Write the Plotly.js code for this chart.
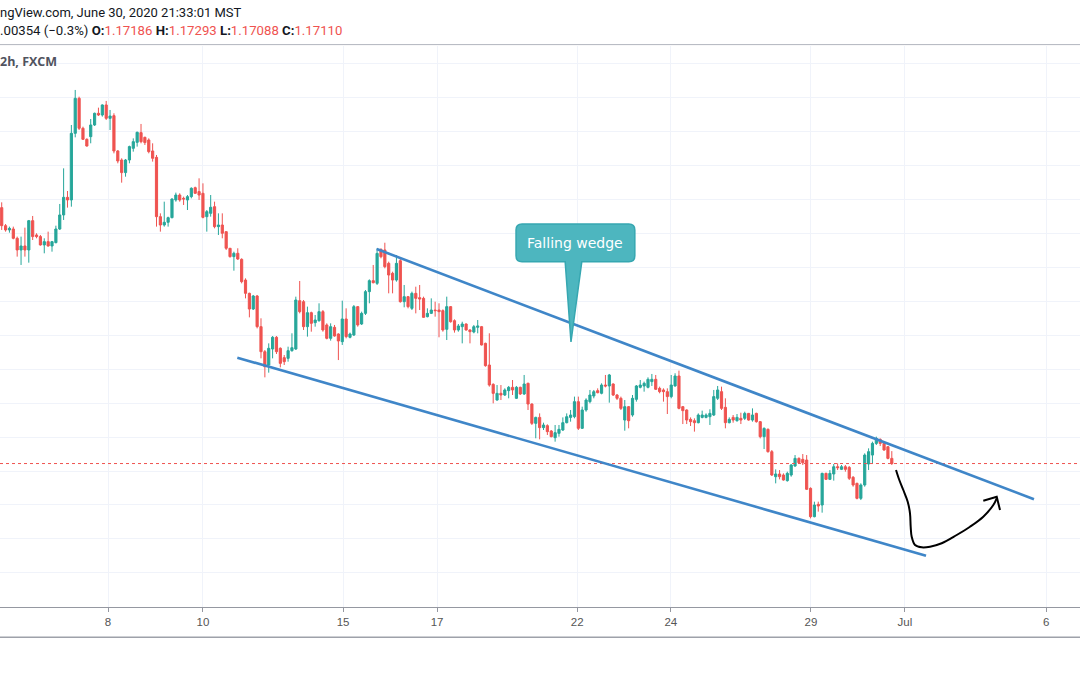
<!DOCTYPE html>
<html>
<head>
<meta charset="utf-8">
<script src="https://cdn.plot.ly/plotly-3.0.1.min.js"></script>
<style>
  html, body { margin: 0; padding: 0; background: #ffffff; }
  #chart { width: 1080px; height: 675px; }
</style>
</head>
<body>
<div id="chart"></div>
<script>
// ---- 2h candles (FXCM), oldest first ----
const open = [
  1.20881,1.20615,1.20552,1.20566,1.20429,1.20257,1.20316,1.20257,1.20689,1.20478,
  1.20454,1.20331,1.20380,1.20316,1.20365,1.20566,1.20773,1.21033,1.20994,1.21976,
  1.22492,1.22050,1.21888,1.21927,1.22099,1.22271,1.22246,1.22394,1.22197,1.22236,
  1.21716,1.21583,1.21397,1.21583,1.21755,1.21843,1.21986,1.21917,1.21878,1.21716,
  1.21622,1.20748,1.20625,1.20665,1.20733,1.20994,1.21067,1.21018,1.20994,1.21043,
  1.21175,1.21117,1.21092,1.20748,1.20797,1.20895,1.20601,1.20625,1.20527,1.20282,
  1.20159,1.20208,
  1.20119,1.19814,1.19618,1.19387,1.19579,1.19127,1.18758,1.18562,1.18798,1.18970,
  1.18808,1.18670,1.18660,1.18773,1.18798,1.19510,1.19495,1.19127,1.19333,1.19186,
  1.19215,1.19348,1.19152,1.18955,1.19117,1.19019,1.18906,1.19240,1.18970,1.19004,
  1.19422,1.19166,1.19323,1.19643,1.19805,1.19765,1.20266,1.20257,1.20060,1.19913,
  1.19814,1.20099,1.19495,1.19569,1.19397,1.19618,1.19554,1.19544,1.19274,1.19323,
  1.19372,1.19372,1.19363,1.19088,1.19422,1.19215,1.19078,1.19127,1.19166,1.19078,
  1.19048,1.19117,1.19127,1.18881,1.18562,1.18277,1.18046,
  1.18145,1.18120,1.18184,1.18233,1.18071,1.18233,1.18135,1.18292,1.17987,1.17702,
  1.17790,1.17639,1.17668,1.17589,1.17491,1.17555,1.17604,1.17712,1.17790,1.17800,
  1.18022,1.17629,1.17899,1.18022,1.18105,1.18184,1.18145,1.18267,1.18253,1.18282,
  1.18120,1.18071,1.17751,1.17948,1.17825,1.18056,1.18233,1.18253,1.18233,1.18317,
  1.18351,1.18218,1.18194,1.18169,1.18096,1.18253,1.18400,1.17948,1.17899,1.17761,
  1.17741,1.17712,1.17790,1.17790,1.17800,1.17825,1.18071,1.18169,1.17938,1.17712,
  1.17790,1.17741,
  1.17776,1.17776,1.17849,1.17751,1.17849,1.17727,1.17506,1.17614,1.17285,1.16916,
  1.16956,1.16941,1.16858,1.16941,1.17073,1.17186,1.17172,1.17162,1.16744,1.16327,
  1.16509,1.16499,1.16965,1.16877,1.16956,1.17063,1.17024,1.17063,1.17053,1.16907,
  1.16818,1.16597,1.16794,1.17103,1.17235,1.17407,1.17466,1.17407,1.17358,1.17186
];
const high = [
  1.20959,1.20640,1.20601,1.20601,1.20454,1.20454,1.20586,1.20699,1.20758,1.20503,
  1.20478,1.20429,1.20527,1.20390,1.20615,1.20935,1.21460,1.21126,1.22099,1.22615,
  1.22516,1.22074,1.21902,1.22187,1.22281,1.22354,1.22403,1.22453,1.22320,1.22271,
  1.21730,1.21608,1.21598,1.21794,1.21902,1.22001,1.22114,1.21927,1.21902,1.21829,
  1.21657,1.20797,1.20969,1.20748,1.21018,1.21102,1.21092,1.21043,1.21067,1.21180,
  1.21190,1.21313,1.21239,1.20846,1.21067,1.20969,1.20797,1.20797,1.20527,1.20282,
  1.20232,1.20282,
  1.20134,1.19839,1.19628,1.19594,1.19594,1.19250,1.18783,1.18881,1.18989,1.18989,
  1.18822,1.18709,1.18832,1.19029,1.19569,1.19800,1.19520,1.19422,1.19348,1.19299,
  1.19471,1.19372,1.19176,1.19176,1.19152,1.19029,1.19510,1.19397,1.19039,1.19446,
  1.19431,1.19348,1.19667,1.19824,1.20036,1.20281,1.20281,1.20364,1.20085,1.19937,
  1.20183,1.20134,1.19741,1.19579,1.19643,1.19716,1.19741,1.19569,1.19397,1.19544,
  1.19495,1.19471,1.19382,1.19569,1.19431,1.19235,1.19166,1.19200,1.19176,1.19088,
  1.19152,1.19225,1.19137,1.18891,1.19029,1.18292,1.18267,
  1.18267,1.18218,1.18253,1.18341,1.18253,1.18243,1.18415,1.18302,1.17997,1.17800,
  1.17849,1.17712,1.17688,1.17604,1.17678,1.17678,1.17790,1.17849,1.17899,1.18096,
  1.18096,1.17948,1.18071,1.18194,1.18194,1.18218,1.18292,1.18415,1.18430,1.18292,
  1.18135,1.18096,1.18046,1.17958,1.18120,1.18267,1.18341,1.18317,1.18380,1.18430,
  1.18415,1.18243,1.18218,1.18218,1.18415,1.18440,1.18479,1.17958,1.17909,1.17790,
  1.17776,1.17849,1.17889,1.17849,1.17909,1.18194,1.18253,1.18243,1.18071,1.17790,
  1.17825,1.17840,
  1.17859,1.17874,1.17855,1.17923,1.17859,1.17737,1.17643,1.17628,1.17309,1.17024,
  1.17014,1.16965,1.16990,1.17103,1.17235,1.17201,1.17250,1.17235,1.16759,1.16548,
  1.16548,1.16975,1.16975,1.17014,1.17103,1.17113,1.17088,1.17088,1.17073,1.16926,
  1.16828,1.16818,1.17260,1.17334,1.17432,1.17506,1.17481,1.17417,1.17368,1.17293
];
const low = [
  1.20552,1.20527,1.20512,1.20414,1.20159,1.20036,1.20159,1.20070,1.20404,1.20429,
  1.20321,1.20208,1.20306,1.20232,1.20355,1.20552,1.20699,1.20881,1.20895,1.21917,
  1.22025,1.21878,1.21780,1.21829,1.22084,1.22231,1.22222,1.22173,1.22025,1.21681,
  1.21534,1.21249,1.21337,1.21534,1.21706,1.21780,1.21829,1.21804,1.21681,1.21559,
  1.20601,1.20527,1.20601,1.20601,1.20723,1.20969,1.20969,1.20920,1.20846,1.21018,
  1.21082,1.20994,1.20723,1.20527,1.20748,1.20576,1.20478,1.20429,1.20257,1.20144,
  1.19952,1.20110,
  1.19765,1.19544,1.19264,1.19372,1.19102,1.18660,1.18380,1.18449,1.18660,1.18724,
  1.18527,1.18562,1.18611,1.18758,1.18783,1.19323,1.19078,1.18980,1.19053,1.19127,
  1.19200,1.19053,1.18940,1.18921,1.18980,1.18635,1.18857,1.18955,1.18955,1.18989,
  1.19127,1.19152,1.19299,1.19471,1.19765,1.19741,1.20134,1.19987,1.19618,1.19618,
  1.19790,1.19481,1.19412,1.19397,1.19372,1.19323,1.19372,1.19260,1.19264,1.19313,
  1.19274,1.18970,1.19053,1.18930,1.19186,1.19039,1.19053,1.18881,1.19068,1.18881,
  1.19029,1.19029,1.18850,1.18537,1.18243,1.17997,1.18036,
  1.18046,1.18105,1.18071,1.18120,1.18061,1.18120,1.18120,1.17899,1.17678,1.17482,
  1.17467,1.17604,1.17531,1.17496,1.17432,1.17506,1.17589,1.17702,1.17727,1.17776,
  1.17604,1.17619,1.17874,1.17997,1.18071,1.18145,1.18130,1.18233,1.18007,1.18105,
  1.18046,1.17899,1.17594,1.17629,1.17800,1.18022,1.18218,1.18169,1.18218,1.18253,
  1.18194,1.18145,1.18022,1.17840,1.18071,1.18243,1.17909,1.17692,1.17692,1.17663,
  1.17580,1.17702,1.17776,1.17776,1.17678,1.17810,1.18046,1.17899,1.17629,1.17702,
  1.17712,1.17727,
  1.17692,1.17751,1.17741,1.17727,1.17712,1.17481,1.17324,1.17270,1.16926,1.16818,
  1.16877,1.16858,1.16843,1.16916,1.17063,1.17103,1.17088,1.16720,1.16302,1.16317,
  1.16401,1.16386,1.16867,1.16867,1.16858,1.17014,1.17014,1.16990,1.16867,1.16769,
  1.16582,1.16572,1.16769,1.17014,1.17113,1.17383,1.17368,1.17299,1.17172,1.17088
];
const close = [
  1.20615,1.20552,1.20576,1.20429,1.20257,1.20316,1.20257,1.20689,1.20454,1.20454,
  1.20331,1.20380,1.20316,1.20380,1.20566,1.20773,1.21033,1.20994,1.21976,1.22492,
  1.22050,1.21888,1.21789,1.22099,1.22271,1.22246,1.22394,1.22197,1.22231,1.21716,
  1.21568,1.21397,1.21583,1.21780,1.21853,1.21991,1.21853,1.21839,1.21706,1.21608,
  1.20748,1.20625,1.20665,1.20733,1.21008,1.21067,1.20994,1.21008,1.21043,1.21166,
  1.21092,1.21067,1.20738,1.20822,1.20886,1.20601,1.20625,1.20503,1.20282,1.20159,
  1.20208,1.20124,
  1.19790,1.19618,1.19387,1.19579,1.19127,1.18758,1.18537,1.18808,1.18970,1.18758,
  1.18586,1.18611,1.18773,1.18817,1.19520,1.19348,1.19127,1.19333,1.19176,1.19225,
  1.19348,1.19078,1.18955,1.19127,1.18989,1.18916,1.19240,1.18980,1.19019,1.19422,
  1.19152,1.19323,1.19643,1.19805,1.19775,1.20207,1.20158,1.20011,1.19888,1.19814,
  1.20060,1.19495,1.19569,1.19422,1.19618,1.19544,1.19535,1.19264,1.19323,1.19372,
  1.19363,1.19348,1.19078,1.19422,1.19200,1.19078,1.19137,1.19166,1.19078,1.19053,
  1.19127,1.19137,1.18857,1.18552,1.18267,1.18144,1.18144,
  1.18120,1.18194,1.18233,1.18194,1.18233,1.18135,1.18282,1.17987,1.17702,1.17790,
  1.17639,1.17678,1.17580,1.17506,1.17565,1.17614,1.17712,1.17800,1.17825,1.18022,
  1.17629,1.17899,1.18046,1.18120,1.18169,1.18154,1.18267,1.18253,1.18415,1.18120,
  1.18071,1.17923,1.17948,1.17741,1.18071,1.18253,1.18267,1.18292,1.18351,1.18351,
  1.18204,1.18169,1.18169,1.18096,1.18267,1.18400,1.17923,1.17889,1.17751,1.17727,
  1.17712,1.17825,1.17825,1.17825,1.17849,1.18096,1.18194,1.17923,1.17712,1.17761,
  1.17751,1.17790,
  1.17751,1.17849,1.17751,1.17825,1.17727,1.17506,1.17628,1.17285,1.16941,1.16956,
  1.16916,1.16867,1.16965,1.17088,1.17186,1.17122,1.17122,1.16730,1.16327,1.16499,
  1.16484,1.16965,1.16877,1.16965,1.17063,1.17049,1.17063,1.17024,1.16892,1.16794,
  1.16597,1.16794,1.17235,1.17285,1.17407,1.17481,1.17407,1.17309,1.17186,1.17110
];

// ---- time axis (bar positions where the day labels sit) ----
const tickPos    = [27.47, 52.0, 88.2, 112.5, 148.7, 172.9, 209.1, 233.4, 269.9];
const tickLabels = ["8", "10", "15", "17", "22", "24", "29", "Jul", "6"];

// ---- drawings on the chart (bar index / price) ----
const wedgeUpperX = [96.90, 266.74];
const wedgeUpperY = [1.20271, 1.16583];
const wedgeLowerX = [60.88, 238.84];
const wedgeLowerY = [1.18670, 1.15752];
const brushX = [231.09, 231.94, 232.97, 234.11, 234.70, 234.88, 235.14, 236.00, 237.73, 239.88, 242.89, 246.77, 250.21, 253.64, 256.23, 257.11];
const brushY = [1.17015, 1.16867, 1.16720, 1.16548, 1.16377, 1.16179, 1.16032, 1.15910, 1.15876, 1.15885, 1.15935, 1.16057, 1.16179, 1.16327, 1.16499, 1.16598];
const arrowX = [253.64, 257.11, 257.96];
const arrowY = [1.16562, 1.16621, 1.16425];
const calloutText = "Falling wedge";

const X_RANGE = [-0.44, 278.63];
const Y_RANGE = [1.149959, 1.232628];

const lastClose = close[close.length - 1];
const barIndex = open.map((_, i) => i);

// callout geometry (bar index / price)
const co = { x0: 132.9, x1: 163.6, yTop: 1.20640, yBot: 1.20084, pL: 145.6, pR: 149.9,
             tipX: 147.1, tipY: 1.18901, rx: 1.55, ry: 0.00088 };
const calloutPath =
  `M ${co.x0 + co.rx},${co.yTop} L ${co.x1 - co.rx},${co.yTop} ` +
  `Q ${co.x1},${co.yTop} ${co.x1},${co.yTop - co.ry} L ${co.x1},${co.yBot + co.ry} ` +
  `Q ${co.x1},${co.yBot} ${co.x1 - co.rx},${co.yBot} L ${co.pR},${co.yBot} ` +
  `L ${co.tipX},${co.tipY} L ${co.pL},${co.yBot} L ${co.x0 + co.rx},${co.yBot} ` +
  `Q ${co.x0},${co.yBot} ${co.x0},${co.yBot + co.ry} L ${co.x0},${co.yTop - co.ry} ` +
  `Q ${co.x0},${co.yTop} ${co.x0 + co.rx},${co.yTop} Z`;

const GREEN = "#26a69a", RED = "#ef5350", WEDGE = "#3f86c8";

const traces = [
  // last-price dotted line (drawn first, under the candles)
  { type: "scatter", mode: "lines", x: X_RANGE, y: [lastClose, lastClose],
    line: { color: RED, width: 1, dash: "dot" }, hoverinfo: "skip", showlegend: false, cliponaxis: true },
  {
    type: "candlestick",
    x: barIndex, open: open, high: high, low: low, close: close,
    increasing: { line: { color: GREEN, width: 1 }, fillcolor: GREEN },
    decreasing: { line: { color: RED, width: 1 }, fillcolor: RED },
    whiskerwidth: 0, hoverinfo: "skip", showlegend: false
  },
  { type: "scatter", mode: "lines", x: wedgeUpperX, y: wedgeUpperY,
    line: { color: WEDGE, width: 2.6 }, hoverinfo: "skip", showlegend: false },
  { type: "scatter", mode: "lines", x: wedgeLowerX, y: wedgeLowerY,
    line: { color: WEDGE, width: 2.6 }, hoverinfo: "skip", showlegend: false },
  { type: "scatter", mode: "lines", x: brushX, y: brushY,
    line: { color: "#000000", width: 2, shape: "spline", smoothing: 1 }, hoverinfo: "skip", showlegend: false },
  { type: "scatter", mode: "lines", x: arrowX, y: arrowY,
    line: { color: "#000000", width: 2 }, hoverinfo: "skip", showlegend: false }
];

const HDR_FONT = "Roboto, 'Open Sans', sans-serif";

const layout = {
  width: 1080, height: 675,
  margin: { l: 0, r: 0, t: 46, b: 68, pad: 0 },
  paper_bgcolor: "#ffffff", plot_bgcolor: "#ffffff",
  showlegend: false,
  boxgap: 0.2,
  xaxis: {
    range: X_RANGE,
    tickmode: "array", tickvals: tickPos, ticktext: tickLabels,
    showgrid: true, gridcolor: "#f0f3fa", gridwidth: 1,
    showline: true, linecolor: "#9598a1", linewidth: 1,
    ticks: "outside", ticklen: 4, tickcolor: "#9598a1", tickwidth: 1,
    tickfont: { family: "'Liberation Sans', Arial, sans-serif", size: 11.5, color: "#555555" },
    zeroline: false, fixedrange: true,
    rangeslider: { visible: false }
  },
  yaxis: {
    range: Y_RANGE,
    tick0: 1.15, dtick: 0.005,
    showgrid: true, gridcolor: "#f0f3fa", gridwidth: 1,
    showticklabels: false, ticks: "", zeroline: false, showline: false, fixedrange: true
  },
  shapes: [
    { type: "line", xref: "paper", yref: "paper", x0: 0, x1: 1, y0: 1.0025, y1: 1.0025,
      line: { color: "#b2b5be", width: 1 } },
    { type: "line", xref: "paper", yref: "paper", x0: 0, x1: 1, y0: -0.054, y1: -0.054,
      line: { color: "#9ea1aa", width: 1.5 } },
    { type: "path", xref: "x", yref: "y", path: calloutPath,
      fillcolor: "#4db6bf", line: { color: "#36a7b1", width: 1.5 } }
  ],
  annotations: [
    { xref: "paper", yref: "paper", x: 0, y: 1.0595, xanchor: "left", yanchor: "middle",
      showarrow: false, xshift: -2,
      text: "ngView.com, June 30, 2020 21:33:01 MST",
      font: { family: HDR_FONT, size: 13, color: "#131722" } },
    { xref: "paper", yref: "paper", x: 0, y: 1.0275, xanchor: "left", yanchor: "middle",
      showarrow: false, xshift: -2,
      text: ".00354 (\u22120.3%) <b>O:</b><span style='color:#ef5350'>1.17186</span> " +
            "<b>H:</b><span style='color:#ef5350'>1.17293</span> " +
            "<b>L:</b><span style='color:#ef5350'>1.17088</span> " +
            "<b>C:</b><span style='color:#ef5350'>1.17110</span>",
      font: { family: HDR_FONT, size: 13.2, color: "#131722" } },
    { xref: "paper", yref: "paper", x: 0, y: 0.9715, xanchor: "left", yanchor: "middle",
      showarrow: false, xshift: -2,
      text: "<b>2h, FXCM</b>",
      font: { family: "'Open Sans', Roboto, sans-serif", size: 12.5, color: "#50535e" } },
    { xref: "x", yref: "y", x: (co.x0 + co.x1) / 2, y: (co.yTop + co.yBot) / 2,
      xanchor: "center", yanchor: "middle", showarrow: false,
      text: calloutText,
      font: { family: "'DejaVu Sans', Verdana, sans-serif", size: 14, color: "#ffffff" } }
  ]
};

Plotly.newPlot("chart", traces, layout, { displayModeBar: false, staticPlot: true, responsive: false });
</script>
</body>
</html>
